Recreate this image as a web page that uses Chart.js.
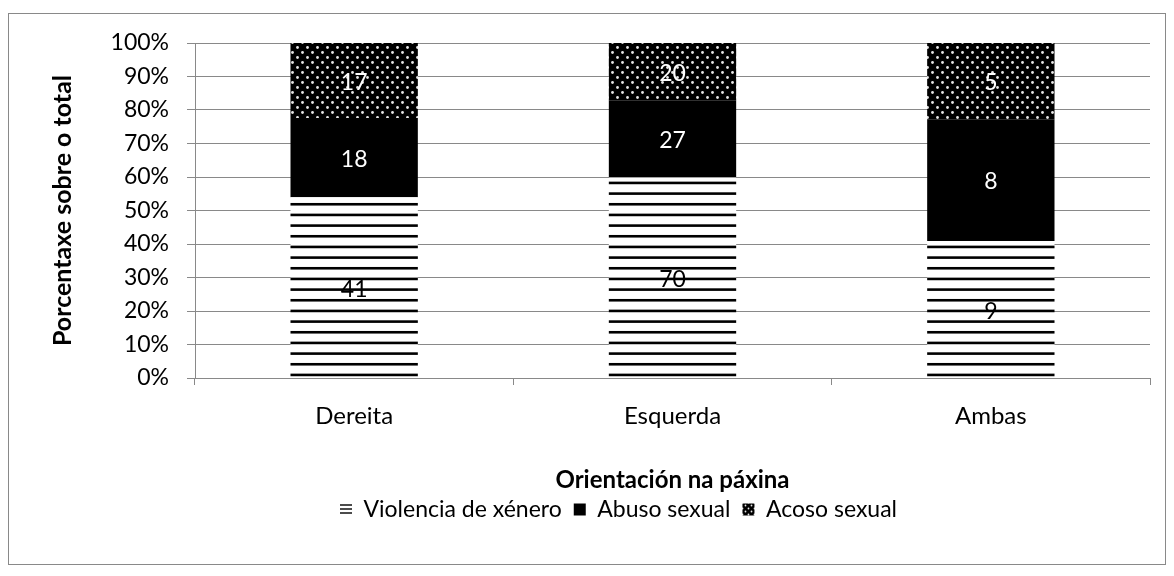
<!DOCTYPE html>
<html>
<head>
<meta charset="utf-8">
<script src="https://cdn.jsdelivr.net/npm/chart.js@4.4.1/dist/chart.umd.min.js"></script>
<style>
html, body { margin: 0; padding: 0; background: #fff; }
#wrap { width: 1174px; height: 576px; }
</style>
</head>
<body>
<div id="wrap"><canvas id="myChart" width="1174" height="576"></canvas></div>
<script>
// counts per orientation
var categories = ['Dereita', 'Esquerda', 'Ambas'];
var violencia = [41, 70, 9];
var abuso = [18, 27, 8];
var acoso = [17, 20, 5];
var seriesNames = ['Violencia de xénero', 'Abuso sexual', 'Acoso sexual'];
var yTicks = [0, 10, 20, 30, 40, 50, 60, 70, 80, 90, 100];

var totals = categories.map(function (c, i) {
    return violencia[i] + abuso[i] + acoso[i];
});
function toPct(arr) {
    return arr.map(function (v, i) { return v / totals[i] * 100; });
}

// fill patterns
function stripes(w, period, thick, reps) {
    var c = document.createElement('canvas');
    c.width = w;
    c.height = Math.round(period * reps);
    var g = c.getContext('2d');
    g.fillStyle = '#fff';
    g.fillRect(0, 0, c.width, c.height);
    g.fillStyle = '#000';
    for (var i = 0; i < reps; i++) {
        g.fillRect(0, i * period + 0.3, w, thick);
    }
    return g.createPattern(c, 'repeat');
}
function dots(size, r) {
    var c = document.createElement('canvas');
    c.width = size;
    c.height = size;
    var g = c.getContext('2d');
    g.fillStyle = '#000';
    g.fillRect(0, 0, size, size);
    g.fillStyle = '#e6e6e6';
    [[size / 4, size / 4], [size * 3 / 4, size * 3 / 4]].forEach(function (p) {
        g.beginPath();
        g.arc(p[0], p[1], r, 0, Math.PI * 2);
        g.fill();
    });
    return g.createPattern(c, 'repeat');
}

var fills = [stripes(8, 32 / 3, 2.6, 3), '#000', dots(10, 1.4)];
var legendFills = [stripes(4, 4, 1.4, 1), '#000', dots(6, 0.9)];
var labelColors = ['#000', '#fff', '#fff'];
var counts = [violencia, abuso, acoso];

var frame = {
    id: 'frame',
    beforeDraw: function (chart) {
        var c = chart.ctx;
        c.save();
        c.fillStyle = '#fff';
        c.fillRect(0, 0, chart.width, chart.height);
        c.strokeStyle = '#898989';
        c.lineWidth = 1;
        c.strokeRect(8.5, 13.5, 1157, 551);
        c.restore();
    }
};

var countLabels = {
    id: 'countLabels',
    afterDatasetsDraw: function (chart) {
        var c = chart.ctx;
        c.save();
        c.font = '23px Lato';
        c.textAlign = 'center';
        c.textBaseline = 'middle';
        chart.data.datasets.forEach(function (ds, d) {
            chart.getDatasetMeta(d).data.forEach(function (bar, i) {
                var p = bar.getProps(['x', 'y', 'base'], true);
                c.fillStyle = labelColors[d];
                c.fillText(counts[d][i], p.x, (p.y + p.base) / 2 + 2);
            });
        });
        c.restore();
    }
};

Chart.defaults.font.family = 'Lato';
Chart.defaults.font.size = 23;
Chart.defaults.color = '#000';

var ctx = document.getElementById('myChart').getContext('2d');
var chart = new Chart(ctx, {
    type: 'bar',
    data: {
        labels: categories,
        datasets: [
            { label: seriesNames[0], data: toPct(violencia), backgroundColor: fills[0] },
            { label: seriesNames[1], data: toPct(abuso), backgroundColor: fills[1] },
            { label: seriesNames[2], data: toPct(acoso), backgroundColor: fills[2] }
        ]
    },
    options: {
        responsive: false,
        animation: false,
        devicePixelRatio: 1,
        barPercentage: 0.4,
        categoryPercentage: 1,
        layout: { padding: { left: 87, right: 24, top: 43, bottom: 45 } },
        plugins: {
            tooltip: { enabled: false },
            legend: {
                position: 'bottom',
                labels: {
                    boxWidth: 12,
                    boxHeight: 12,
                    padding: 12,
                    font: { size: 23 },
                    generateLabels: function (chart) {
                        var items = Chart.defaults.plugins.legend.labels.generateLabels(chart);
                        items.forEach(function (it, k) {
                            it.fillStyle = legendFills[k];
                            it.lineWidth = 0;
                            it.strokeStyle = 'transparent';
                        });
                        return items;
                    }
                }
            }
        },
        scales: {
            x: {
                stacked: true,
                grid: { drawOnChartArea: false, color: '#898989', tickLength: 7 },
                border: { color: '#898989' },
                ticks: { padding: 17, font: { size: 24 } },
                title: {
                    display: true,
                    text: 'Orientación na páxina',
                    font: { size: 24, weight: 'bold' },
                    padding: { top: 0, bottom: -9 }
                },
                afterFit: function (scale) { scale.height = 108; }
            },
            y: {
                stacked: true,
                min: 0,
                max: 100,
                afterBuildTicks: function (scale) {
                    scale.ticks = yTicks.map(function (v) { return { value: v }; });
                },
                grid: { color: '#898989', tickLength: 8 },
                border: { color: '#898989' },
                ticks: {
                    padding: 18,
                    font: { size: 23 },
                    callback: function (v) { return v + '%'; }
                },
                title: {
                    display: true,
                    text: 'Porcentaxe sobre o total',
                    font: { size: 25, weight: 'bold' },
                    padding: { top: -39, bottom: 0 }
                },
                afterFit: function (scale) { scale.width = 108; }
            }
        }
    },
    plugins: [frame, countLabels]
});
</script>
</body>
</html>
